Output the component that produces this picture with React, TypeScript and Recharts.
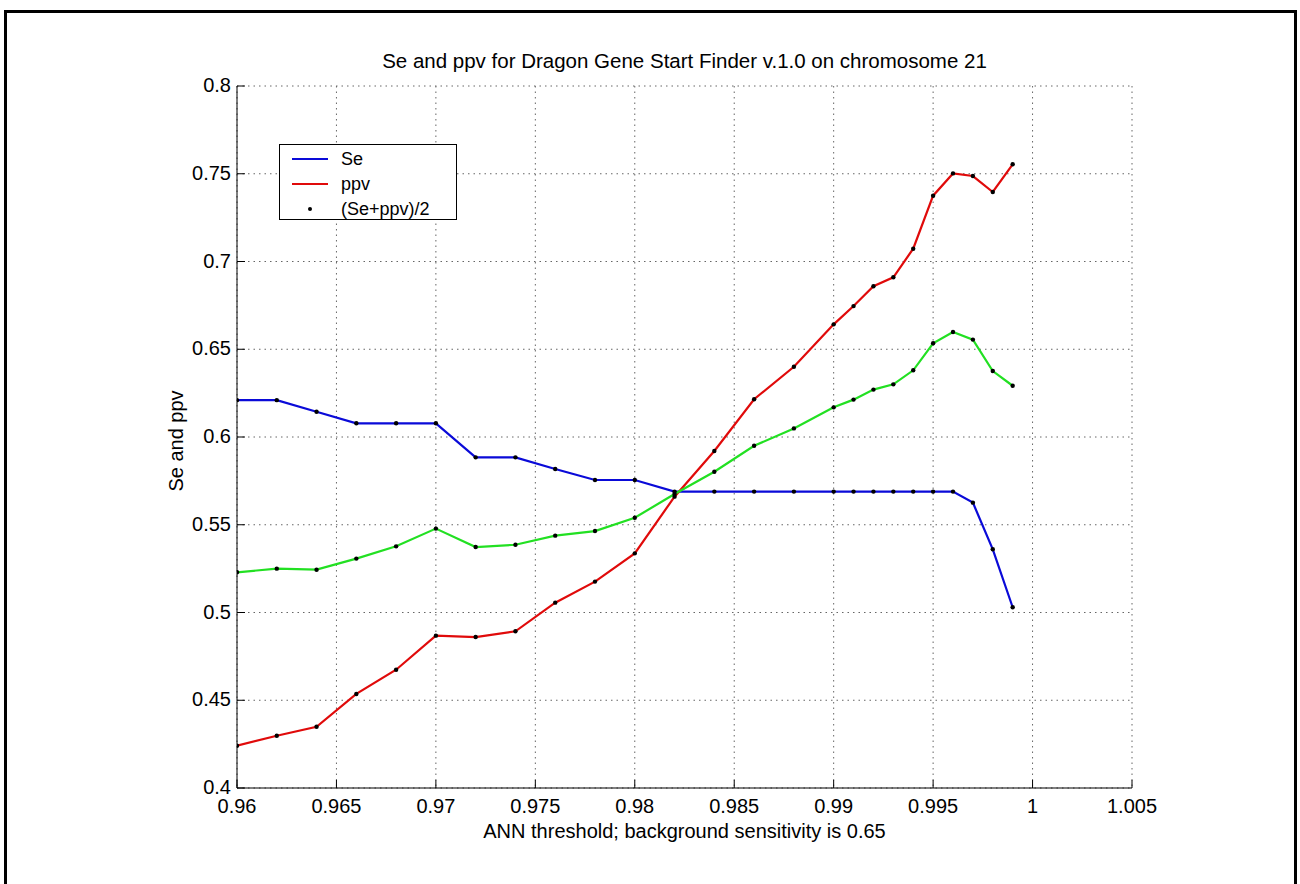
import { LineChart, Line, XAxis, YAxis, CartesianGrid } from 'recharts'

// valores (MATLAB)
const limiares = [0.96, 0.962, 0.964, 0.966, 0.968, 0.97, 0.972, 0.974, 0.976, 0.978, 0.98, 0.982, 0.984, 0.986, 0.988, 0.99, 0.991, 0.992, 0.993, 0.994, 0.995, 0.996, 0.997, 0.998, 0.999]
const se = [0.621, 0.621, 0.6144, 0.6078, 0.6078, 0.6078, 0.5884, 0.5884, 0.5818, 0.5755, 0.5755, 0.5689, 0.5689, 0.5689, 0.5689, 0.5689, 0.5689, 0.5689, 0.5689, 0.5689, 0.5689, 0.5689, 0.5626, 0.536, 0.503]
const ppv = [0.4241, 0.4298, 0.4349, 0.4536, 0.4674, 0.4868, 0.486, 0.4893, 0.5056, 0.5176, 0.5337, 0.566, 0.592, 0.6215, 0.64, 0.6642, 0.6746, 0.6859, 0.691, 0.7073, 0.7375, 0.7502, 0.7487, 0.7396, 0.7554]
const media = [0.5229, 0.525, 0.5244, 0.5307, 0.5377, 0.5478, 0.5373, 0.5386, 0.5438, 0.5464, 0.554, 0.5675, 0.5802, 0.595, 0.6049, 0.6169, 0.6213, 0.627, 0.63, 0.638, 0.6534, 0.6598, 0.6555, 0.6376, 0.6292]

const ticksX = [0.96, 0.965, 0.97, 0.975, 0.98, 0.985, 0.99, 0.995, 1, 1.005]
const ticksY = [0.4, 0.45, 0.5, 0.55, 0.6, 0.65, 0.7, 0.75, 0.8]

const titulo = 'Se and ppv for Dragon Gene Start Finder v.1.0 on chromosome 21'
const rotuloX = 'ANN threshold; background sensitivity is 0.65'
const rotuloY = 'Se and ppv'

const itensLegenda = [
  { nome: 'Se', tipo: 'linha', cor: '#0a0ad8' },
  { nome: 'ppv', tipo: 'linha', cor: '#e00a0a' },
  { nome: '(Se+ppv)/2', tipo: 'ponto', cor: '#000' },
]

const dados = limiares.map((t, i) => ({ t, se: se[i], ppv: ppv[i], media: media[i] }))

const FONTE = "'Liberation Sans', Arial, sans-serif"
const fmt = (v: number) => String(+v.toFixed(3))
const TAM = 8 // ticks para dentro, estilo MATLAB

const TickBaixo = ({ x, y, payload }: any) => (
  <g>
    <line x1={x} x2={x} y1={y} y2={y - TAM} stroke="#000" />
    <text x={x} y={y + 25} textAnchor="middle" fontSize={20} fontFamily={FONTE} fill="#000">{fmt(payload.value)}</text>
  </g>
)
const TickCima = ({ x, y }: any) => <line x1={x} x2={x} y1={y} y2={y + TAM} stroke="#000" />
const TickEsq = ({ x, y, payload }: any) => (
  <g>
    <line x1={x} x2={x + TAM} y1={y} y2={y} stroke="#000" />
    <text x={x - 6} y={y + 6} textAnchor="end" fontSize={20} fontFamily={FONTE} fill="#000">{fmt(payload.value)}</text>
  </g>
)
const TickDir = ({ x, y }: any) => <line x1={x} x2={x - TAM} y1={y} y2={y} stroke="#000" />

const pontoPreto = { r: 2.2, fill: '#000', stroke: 'none' }

export default function App() {
  return (
    <div style={{ position: 'absolute', left: 0, top: 0, width: 1300, height: 884, background: '#fff', overflow: 'hidden', fontFamily: FONTE }}>
      <div style={{ position: 'absolute', left: 4, top: 10, width: 1287, height: 900, border: '3px solid #000' }} />
      <div style={{ position: 'absolute', left: 187, width: 995, top: 49, textAlign: 'center', fontSize: 20.5, color: '#000', whiteSpace: 'nowrap' }}>{titulo}</div>
      <div style={{ position: 'absolute', left: 237, width: 895, top: 820, textAlign: 'center', fontSize: 20, color: '#000', whiteSpace: 'nowrap' }}>{rotuloX}</div>
      <div style={{ position: 'absolute', left: 176, top: 441, transform: 'translate(-50%, -50%) rotate(-90deg)', fontSize: 20, whiteSpace: 'nowrap', color: '#000' }}>{rotuloY}</div>
      <div style={{ position: 'absolute', left: 0, top: 0 }}>
        <LineChart width={1300} height={884} data={dados} margin={{ top: 86, right: 168, left: 177, bottom: 66 }}>
          <CartesianGrid stroke="#666" strokeDasharray="1.5 4" />
          <XAxis dataKey="t" type="number" domain={[0.96, 1.005]} ticks={ticksX} allowDataOverflow height={30}
            axisLine={{ stroke: '#000' }} tickLine={false} tickSize={0} tickMargin={0} tick={<TickBaixo />} interval={0} />
          <XAxis xAxisId="cima" orientation="top" dataKey="t" type="number" domain={[0.96, 1.005]} ticks={ticksX} allowDataOverflow height={0}
            axisLine={{ stroke: '#000' }} tickLine={false} tickSize={0} tickMargin={0} tick={<TickCima />} interval={0} />
          <YAxis type="number" domain={[0.4, 0.8]} ticks={ticksY} allowDataOverflow width={60}
            axisLine={{ stroke: '#000' }} tickLine={false} tickSize={0} tickMargin={0} tick={<TickEsq />} interval={0} />
          <YAxis yAxisId="dir" orientation="right" type="number" domain={[0.4, 0.8]} ticks={ticksY} allowDataOverflow width={0}
            axisLine={{ stroke: '#000' }} tickLine={false} tickSize={0} tickMargin={0} tick={<TickDir />} interval={0} />
          <Line type="linear" dataKey="se" stroke="#0a0ad8" strokeWidth={2.2} dot={pontoPreto} activeDot={false} isAnimationActive={false} />
          <Line type="linear" dataKey="ppv" stroke="#e00a0a" strokeWidth={2.2} dot={pontoPreto} activeDot={false} isAnimationActive={false} />
          <Line type="linear" dataKey="media" stroke="#22e022" strokeWidth={2.2} dot={pontoPreto} activeDot={false} isAnimationActive={false} />
        </LineChart>
      </div>
      {/* legenda estilo MATLAB, sobre o gráfico */}
      <div style={{ position: 'absolute', left: 279, top: 144, width: 176, height: 74, border: '1px solid #000', background: '#fff', fontSize: 18, color: '#000' }}>
        {itensLegenda.map((it, i) => (
          <div key={it.nome} style={{ position: 'absolute', left: 0, top: 2 + i * 25, height: 24, width: 176, display: 'flex', alignItems: 'center' }}>
            <div style={{ width: 36, marginLeft: 12, display: 'flex', justifyContent: 'center' }}>
              {it.tipo === 'linha'
                ? <div style={{ width: 36, height: 2, background: it.cor }} />
                : <div style={{ width: 4, height: 4, borderRadius: '50%', background: it.cor }} />}
            </div>
            <span style={{ marginLeft: 13 }}>{it.nome}</span>
          </div>
        ))}
      </div>
    </div>
  )
}
